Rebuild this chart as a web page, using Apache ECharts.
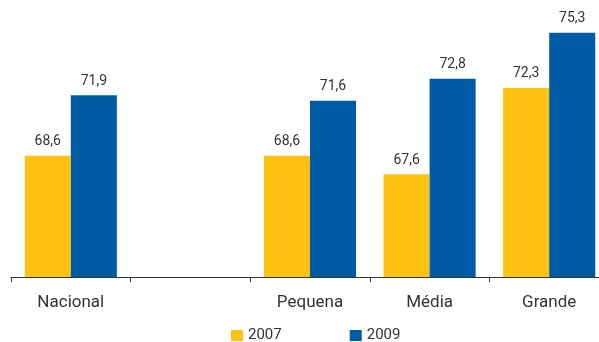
<!DOCTYPE html>
<html>
<head>
<meta charset="utf-8">
<script src="https://cdn.jsdelivr.net/npm/echarts@6/dist/echarts.min.js"></script>
<style>
  html, body { margin: 0; padding: 0; background: #fff; }
  #chart { width: 599px; height: 342px; }
</style>
</head>
<body>
<div id="chart"></div>
<script>
// Category order along the axis (the second slot is intentionally blank)
const categories = ['Nacional', '', 'Pequena', 'Média', 'Grande'];
const seriesNames = ['2007', '2009'];
const values2007 = [68.6, null, 68.6, 67.6, 72.3];
const values2009 = [71.9, null, 71.6, 72.8, 75.3];

const FONT = 'Roboto, "Liberation Sans", sans-serif';
const YELLOW = '#FDC212';
const BLUE = '#005BA5';

const fmt = v => String(v.value).replace('.', ',');

const chart = echarts.init(document.getElementById('chart'), null, { renderer: 'canvas' });
chart.setOption({
  animation: false,
  backgroundColor: '#ffffff',
  grid: { left: 11, top: 20, width: 598, height: 257, containLabel: false, outerBoundsMode: 'none' },
  legend: {
    top: 323,
    left: 226,
    itemWidth: 12,
    itemHeight: 11,
    itemGap: 68,
    icon: 'rect',
    textStyle: { fontFamily: FONT, fontSize: 15, color: '#333' },
    data: seriesNames
  },
  xAxis: {
    type: 'category',
    data: categories,
    axisLine: { lineStyle: { color: '#333', width: 1 } },
    axisTick: { show: true, length: 5, lineStyle: { color: '#333' } },
    axisLabel: { fontFamily: FONT, fontSize: 17, color: '#333', margin: 17 }
  },
  yAxis: {
    type: 'value',
    min: 62,
    max: 76,
    show: false,
    splitLine: { show: false }
  },
  series: [
    {
      name: seriesNames[0],
      type: 'bar',
      data: values2007,
      itemStyle: { color: YELLOW },
      barGap: '0%',
      barCategoryGap: '23%',
      label: { show: true, position: 'top', distance: 7, formatter: fmt,
               fontFamily: FONT, fontSize: 14, color: '#333' }
    },
    {
      name: seriesNames[1],
      type: 'bar',
      data: values2009,
      itemStyle: { color: BLUE },
      barGap: '0%',
      barCategoryGap: '23%',
      label: { show: true, position: 'top', distance: 7, formatter: fmt,
               fontFamily: FONT, fontSize: 14, color: '#333' }
    }
  ]
});
</script>
</body>
</html>
